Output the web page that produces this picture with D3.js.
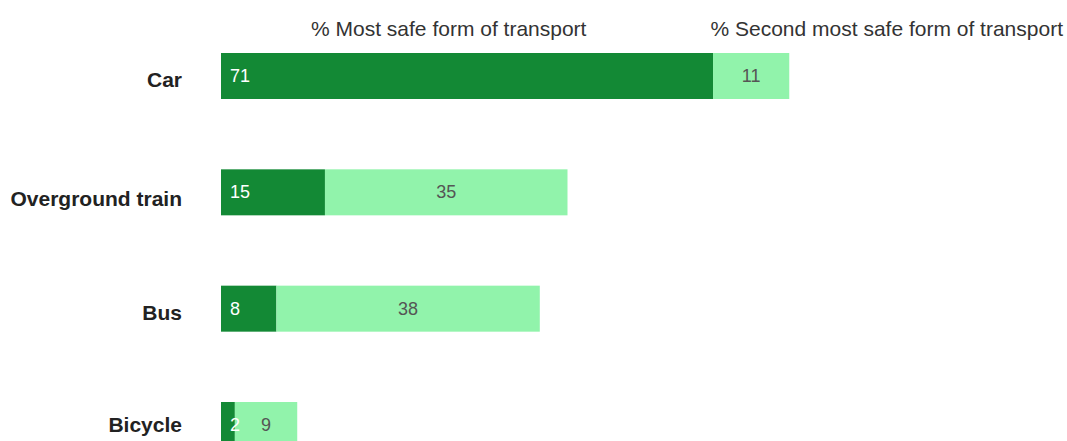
<!DOCTYPE html>
<html>
<head>
<meta charset="utf-8">
<script src="https://cdn.jsdelivr.net/npm/d3@7"></script>
<style>
  html, body { margin: 0; padding: 0; background: #fff; }
  svg { display: block; font-family: "Liberation Sans", Arial, sans-serif; }
</style>
</head>
<body>
<svg id="chart" width="1067" height="441"></svg>
<script>
// Survey shares: which form of transport people consider safest
const categories = ["Car", "Overground train", "Bus", "Bicycle"];
const mostSafe = [71, 15, 8, 2];
const secondSafe = [11, 35, 38, 9];
const seriesNames = ["% Most safe form of transport", "% Second most safe form of transport"];

const svg = d3.select("#chart");
const colors = ["#138935", "#91f3ab"];

const x = d3.scaleLinear().domain([0, 100]).range([221, 914]);
const y = d3.scaleBand()
  .domain(categories)
  .range([53, 448])
  .paddingInner(0.6046)
  .paddingOuter(0);

const rows = categories.map((c, i) => ({ cat: c, a: mostSafe[i], b: secondSafe[i], i }));

// Series headers
svg.append("text")
  .attr("x", 311).attr("y", 36)
  .attr("font-size", 21).attr("fill", "#333")
  .text(seriesNames[0]);
svg.append("text")
  .attr("x", 1063).attr("y", 36)
  .attr("text-anchor", "end")
  .attr("font-size", 21).attr("fill", "#333")
  .text(seriesNames[1]);

const g = svg.append("g");
const row = g.selectAll("g.row").data(rows).join("g").attr("class", "row");

// Category labels (baseline shift below the bar centre per row)
const labelShift = [11, 14, 11, 7];
row.append("text")
  .attr("x", 182)
  .attr("y", d => y(d.cat) + y.bandwidth() / 2 + labelShift[d.i])
  .attr("text-anchor", "end")
  .attr("font-size", 21).attr("font-weight", "bold").attr("fill", "#222")
  .text(d => d.cat);

// First segment
row.append("rect")
  .attr("x", x(0))
  .attr("y", d => y(d.cat))
  .attr("width", d => x(d.a) - x(0))
  .attr("height", y.bandwidth())
  .attr("fill", colors[0]);

// Second segment
row.append("rect")
  .attr("x", d => x(d.a))
  .attr("y", d => y(d.cat))
  .attr("width", d => x(d.a + d.b) - x(d.a))
  .attr("height", y.bandwidth())
  .attr("fill", colors[1]);

// Value labels
row.append("text")
  .attr("x", x(0) + 9)
  .attr("y", d => y(d.cat) + y.bandwidth() / 2 + 6)
  .attr("font-size", 18).attr("fill", "#fff")
  .text(d => d.a);

row.append("text")
  .attr("x", d => (x(d.a) + x(d.a + d.b)) / 2)
  .attr("y", d => y(d.cat) + y.bandwidth() / 2 + 6)
  .attr("text-anchor", "middle")
  .attr("font-size", 18).attr("fill", "#555")
  .text(d => d.b);
</script>
</body>
</html>
